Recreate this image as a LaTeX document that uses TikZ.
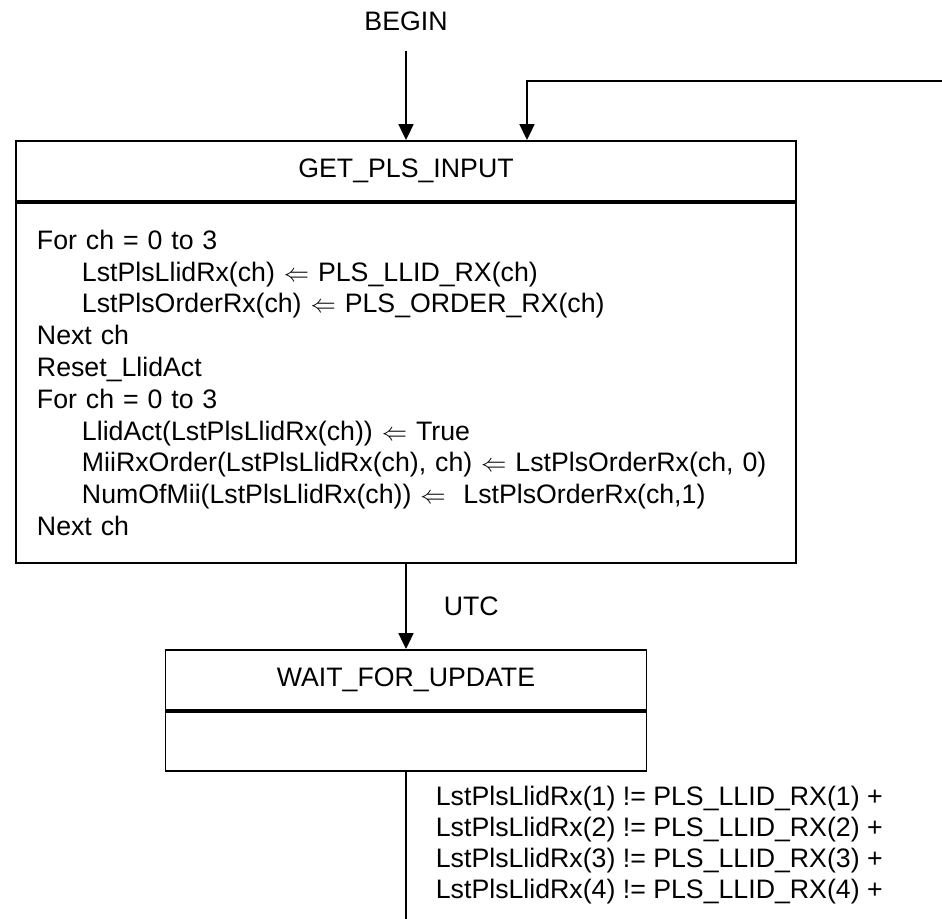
\documentclass[tikz,border=0pt]{standalone}
\usepackage{fontspec}
\setmainfont{Liberation Sans}
\usepackage{amsmath, amssymb}
\usetikzlibrary{arrows.meta}
\usetikzlibrary{positioning}

\tikzset{
  boxpart/.style={draw, line width=1.1pt, inner sep=0pt},
  flow/.style={line width=1pt, -{Triangle[length=9pt,width=8.5pt]}},
  tag/.style={inner sep=0pt, align=left}
}

\begin{document}
\begin{tikzpicture}[font=\fontsize{15.2}{17.6}\selectfont]
		\useasboundingbox (0,0) rectangle (18.84,18.38); % marco
		\node[inner sep=0pt] (begin) at (8.12,17.96) {BEGIN}; % inicio
		\node[boxpart, minimum width=15.6cm, minimum height=1.2cm] (getplshead) at (8.12,14.96) {GET\_PLS\_INPUT}; % estado 1
		\node[boxpart, minimum width=15.6cm, minimum height=7.2cm, text width=14.76cm, inner xsep=0.42cm, align=left, anchor=north, font=\fontsize{15.2}{18.1}\selectfont] (getplsbody) at (getplshead.south) {For ch = 0 to 3\\
			\hspace*{0.9cm}LstPlsLlidRx(ch) $\Leftarrow$ PLS\_LLID\_RX(ch)\\
			\hspace*{0.9cm}LstPlsOrderRx(ch) $\Leftarrow$ PLS\_ORDER\_RX(ch)\\
			Next ch\\
			Reset\_LlidAct\\
			For ch = 0 to 3\\
			\hspace*{0.9cm}LlidAct(LstPlsLlidRx(ch)) $\Leftarrow$ True\\
			\hspace*{0.9cm}MiiRxOrder(LstPlsLlidRx(ch), ch) $\Leftarrow$ LstPlsOrderRx(ch, 0)\\
			\hspace*{0.9cm}NumOfMii(LstPlsLlidRx(ch)) $\Leftarrow$\ \ LstPlsOrderRx(ch,1)\\
			Next ch}; % cuerpo estado 1
		\node[boxpart, minimum width=9.62cm, minimum height=1.2cm] (waithead) at (8.12,4.78) {WAIT\_FOR\_UPDATE}; % estado 2
		\node[boxpart, minimum width=9.62cm, minimum height=1.18cm, anchor=north] (waitbody) at (waithead.south) {}; % cuerpo estado 2
		\coordinate (loopin) at (18.84,16.76); % retorno
		\coordinate (exit) at (8.12,0); % salida
		\draw[flow] ([yshift=-0.4cm]begin.south) -- (getplshead.north);
		\draw[flow] (loopin) -| ([xshift=2.42cm]getplshead.north);
		\draw[flow] (getplsbody.south) -- node[tag, right=0.74cm] {UTC} (waithead.north);
		\draw[line width=1pt] (waitbody.south) -- node[tag, right=0.58cm] {LstPlsLlidRx(1) != PLS\_LLID\_RX(1) +\\
			LstPlsLlidRx(2) != PLS\_LLID\_RX(2) +\\
			LstPlsLlidRx(3) != PLS\_LLID\_RX(3) +\\
			LstPlsLlidRx(4) != PLS\_LLID\_RX(4) +} (exit);
\end{tikzpicture}
\end{document}
